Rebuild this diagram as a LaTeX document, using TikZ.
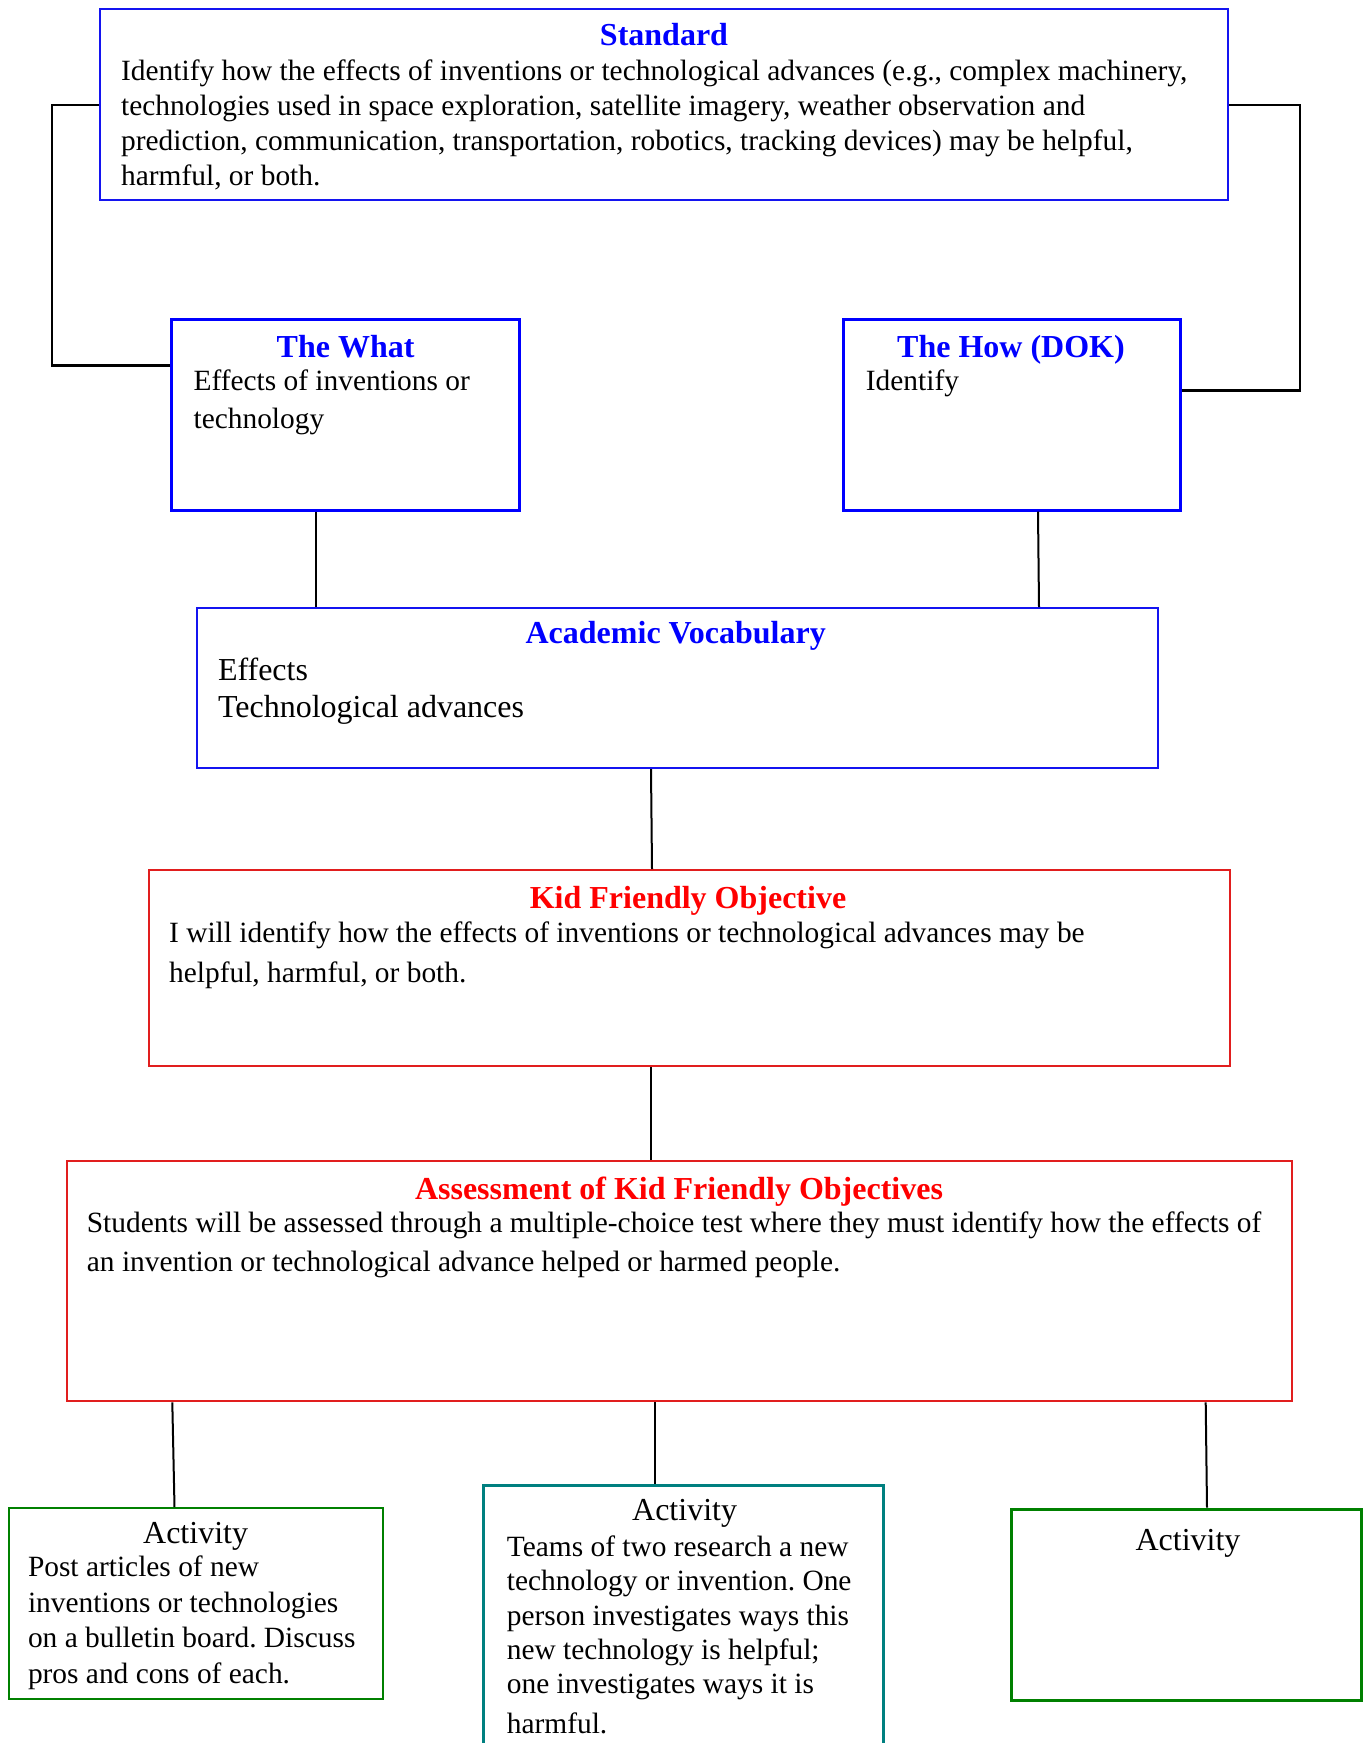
\documentclass[tikz,border=0pt]{standalone}
\usepackage{fontspec}
\setmainfont{Liberation Serif}
\frenchspacing
\definecolor{tblue}{RGB}{0,0,255}
\definecolor{bblue}{RGB}{20,20,240}
\definecolor{tred}{RGB}{255,0,0}
\definecolor{bred}{RGB}{225,30,30}
\definecolor{teal2}{RGB}{0,128,128}
\definecolor{green2}{RGB}{0,128,0}
\begin{document}
\begin{tikzpicture}[x=1pt,y=-1pt,
  bx/.style={draw, rectangle, inner sep=0pt},
  ttl/.style={anchor=base, inner sep=0pt, font=\fontsize{32}{36}\selectfont\bfseries},
  act/.style={anchor=base, inner sep=0pt, font=\fontsize{32}{36}\selectfont},
  body/.style={anchor=base west, inner sep=0pt, align=left, font=\fontsize{29.4}{35.2}\selectfont\frenchspacing},
  conn/.style={draw=black, line width=2pt}]
\clip (0,0) rectangle (1368,1743);
\fill[white] (0,0) rectangle (1368,1743);

% boxes
\node[bx, draw=bblue, line width=2pt, minimum width=1128pt, minimum height=191pt] (std) at (664,104.5) {};
\node[bx, draw=tblue, line width=3pt, minimum width=348pt, minimum height=191pt] (what) at (345,414.5) {};
\node[bx, draw=tblue, line width=3pt, minimum width=337pt, minimum height=191pt] (how) at (1012,414.5) {};
\node[bx, draw=bblue, line width=2pt, minimum width=961pt, minimum height=160pt] (av) at (677.3,688) {};
\node[bx, draw=bred, line width=2pt, minimum width=1081pt, minimum height=196pt] (kfo) at (689.5,968) {};
\node[bx, draw=bred, line width=2pt, minimum width=1225pt, minimum height=240pt] (akfo) at (679,1281.3) {};
\node[bx, draw=green2, line width=2pt, minimum width=374.5pt, minimum height=191pt] (act1) at (196,1603.6) {};
\node[bx, draw=teal2, line width=3pt, minimum width=400pt, minimum height=270pt] (act2) at (683.5,1620.8) {};
\node[bx, draw=green2, line width=3pt, minimum width=350pt, minimum height=191pt] (act3) at (1186.3,1604.5) {};

% texts (multi-line nodes are placed by the baseline of their last line)
\node[ttl, text=tblue] (stdt) at (664,45.5) {Standard};
\node[body] (stdb) at (121,185.6) {Identify how the effects of inventions or technological advances (e.g., complex machinery,\\technologies used in space exploration, satellite imagery, weather observation and\\prediction, communication, transportation, robotics, tracking devices) may be helpful,\\harmful, or both.};

\node[ttl, text=tblue] (whatt) at (345.6,357.3) {The What};
\node[body, font=\fontsize{29.4}{37.6}\selectfont] (whatb) at (193.4,428.3) {Effects of inventions or\\technology};

\node[ttl, text=tblue] (howt) at (1011,357.3) {The How (DOK)};
\node[body] (howb) at (865.7,390.7) {Identify};

\node[ttl, text=tblue] (avt) at (675.7,643.3) {Academic Vocabulary};
\node[body, font=\fontsize{32}{37.7}\selectfont] (avb) at (217.8,717.7) {Effects\\Technological advances};

\node[ttl, text=tred] (kfot) at (688,908) {Kid Friendly Objective};
\node[body, font=\fontsize{29.4}{40}\selectfont] (kfob) at (169,982.5) {I will identify how the effects of inventions or technological advances may be\\helpful, harmful, or both.};

\node[ttl, text=tred] (akfot) at (679,1199) {Assessment of Kid Friendly Objectives};
\node[body, font=\fontsize{29.4}{39}\selectfont] (akfob) at (86.7,1271.5) {Students will be assessed through a multiple-choice test where they must identify how the effects of\\an invention or technological advance helped or harmed people.};

\node[act] (a1t) at (195.6,1543.3) {Activity};
\node[body, font=\fontsize{29.4}{35.5}\selectfont] (a1b) at (27.8,1683.3) {Post articles of new\\inventions or technologies\\on a bulletin board. Discuss\\pros and cons of each.};

\node[act] (a2t) at (684.6,1520) {Activity};
\node[body, font=\fontsize{29.4}{34.15}\selectfont] (a2b) at (506.7,1733.3) {Teams of two research a new\\technology or invention. One\\person investigates ways this\\new technology is helpful;\\one investigates ways it is\\[5.85pt]harmful.};

\node[act] (a3t) at (1188,1550) {Activity};

% connectors
\draw[conn] (std.west) -- (52,104.5) -- (52,365.6);
\draw[conn, line width=3pt] (51,365.6) -- (what.west |- 0,365.6);
\draw[conn] (std.east) -- (1300,104.5) -- (1300,390);
\draw[conn, line width=3pt] (1301,390) -- (how.east |- 0,390);
\draw[conn] (what.south -| 315.6,0) -- (av.north -| 315.6,0);
\draw[conn] (how.south -| 1038,0) -- (av.north -| 1039,0);
\draw[conn] (av.south -| 651,0) -- (kfo.north -| 652,0);
\draw[conn] (kfo.south -| 651,0) -- (akfo.north -| 651,0);
\draw[conn] (akfo.south -| 172.3,0) -- (act1.north -| 174.5,0);
\draw[conn] (akfo.south -| 654.6,0) -- (act2.north -| 654.6,0);
\draw[conn] (akfo.south -| 1205.7,0) -- (act3.north -| 1207,0);
\end{tikzpicture}
\end{document}
